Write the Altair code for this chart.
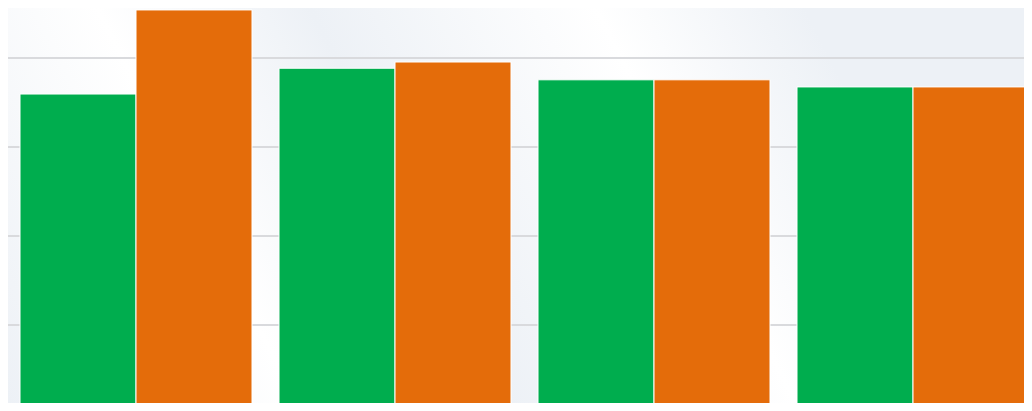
import altair as alt
import pandas as pd

# Data
categories = ["A", "B", "C", "D"]
series_names = ["Series 1", "Series 2"]
series1 = [91.9, 97.7, 95.1, 93.5]
series2 = [110.8, 99.1, 95.1, 93.5]
grid_values = [20, 40, 60, 80, 100, 120]

colors = ["#00ad4e", "#e46c0a"]

rows = []
for c, a, b in zip(categories, series1, series2):
    rows.append({"cat": c, "series": series_names[0], "value": a})
    rows.append({"cat": c, "series": series_names[1], "value": b})
df = pd.DataFrame(rows)

W, H = 1016, 395
# keep 89 px per 20 units, value 100 at 50 px below the top of the plot
top_val = 100 + 50 * 20 / 89
bot_val = 100 - (H - 50) * 20 / 89
y_scale = alt.Scale(domain=[bot_val, top_val], zero=False, nice=False)

bg = alt.Chart(pd.DataFrame({"k": [0]})).mark_rect(
    color=alt.Gradient(
        gradient="linear",
        x1=0, y1=1, x2=1.152, y2=0.773,
        stops=[
            alt.GradientStop(offset=0.0, color="#edf1f6"),
            alt.GradientStop(offset=0.238, color="#ffffff"),
            alt.GradientStop(offset=0.413, color="#edf1f6"),
            alt.GradientStop(offset=0.648, color="#ffffff"),
            alt.GradientStop(offset=0.82, color="#edf1f6"),
            alt.GradientStop(offset=1.0, color="#edf1f6"),
        ],
    )
).encode(
    x=alt.value(0), x2=alt.value(W), y=alt.value(0), y2=alt.value(H)
)

grid = alt.Chart(pd.DataFrame({"g": grid_values})).mark_rule(
    color="#d9dadd", strokeWidth=2, clip=True
).encode(
    y=alt.Y("g:Q", scale=y_scale, axis=None)
)

bars = alt.Chart(df).mark_bar(
    stroke="white", strokeWidth=1, clip=True
).encode(
    x=alt.X("cat:N", sort=categories, axis=None,
            scale=alt.Scale(range=[12, 1021], paddingInner=27 / 259, paddingOuter=0)),
    xOffset=alt.XOffset("series:N", sort=series_names,
                        scale=alt.Scale(paddingInner=0, paddingOuter=0)),
    y=alt.Y("value:Q", scale=y_scale, axis=None),
    color=alt.Color("series:N", scale=alt.Scale(domain=series_names, range=colors), legend=None),
)

chart = alt.layer(bg, grid, bars).properties(
    width=W, height=H,
    autosize=alt.AutoSizeParams(type="none"),
    padding=0,
).configure_view(stroke=None)

chart.save("out.html", embed_options={"renderer": "svg", "actions": False})
